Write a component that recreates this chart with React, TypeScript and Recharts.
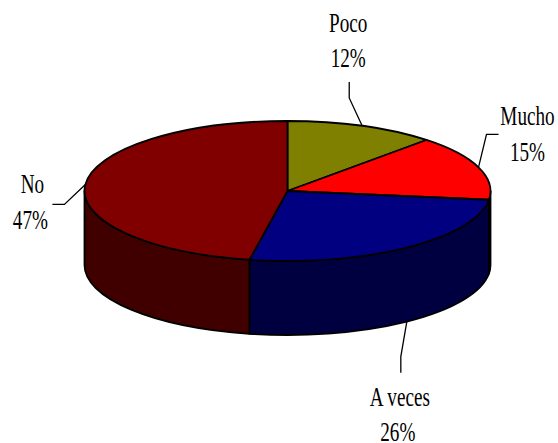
import React from "react";
import { PieChart, Pie } from "recharts";

const categories = ["Poco", "Mucho", "A veces", "No"];
const values = [12, 15, 26, 47];
const topColors = ["#808000", "#FF0000", "#000080", "#800000"];
const sideColors = ["#404000", "#800000", "#000040", "#400000"];

// Layout of the tilted pie
const CX = 287.5;
const CY = 191;
const RX = 203;
const RY = 70;
const DEPTH = 74;

// Label layout: offsets from the slice's rim anchor
const labelLayout = [
  { elbow: [-13, -28], end: [-13, -44], text: [-14, -94], second: 0, front: false },
  { elbow: [8, -33], end: [20, -33], text: [49, -42], second: 0, front: false },
  { elbow: [-6, 35], end: [-6, 51], text: [-7, 84], second: -2, front: true },
  { elbow: [-21, 20], end: [-33, 20], text: [-53, 9], second: -2, front: false },
];

const data = categories.map((name, i) => ({ name, value: values[i] }));

const rim = (a: number, cx: number, cy: number, rx: number) => {
  const r = (a * Math.PI) / 180;
  return [cx + rx * Math.cos(r), cy - (rx * (RY / RX)) * Math.sin(r)];
};

function Slice(props: any) {
  const { cx, cy, outerRadius: rx, startAngle, endAngle, index } = props;
  const ry = rx * (RY / RX);
  const [sx, sy] = rim(startAngle, cx, cy, rx);
  const [ex, ey] = rim(endAngle, cx, cy, rx);
  const large = Math.abs(startAngle - endAngle) > 180 ? 1 : 0;
  const a1 = Math.min(startAngle, 0);
  const a2 = Math.max(endAngle, -180);
  let side = null;
  if (a1 > a2) {
    const [x1, y1] = rim(a1, cx, cy, rx);
    const [x2, y2] = rim(a2, cx, cy, rx);
    side = (
      <path
        d={`M${x1},${y1} A${rx},${ry} 0 0 1 ${x2},${y2} L${x2},${y2 + DEPTH} A${rx},${ry} 0 0 0 ${x1},${y1 + DEPTH} Z`}
        fill={sideColors[index]}
        stroke="#000"
        strokeWidth={1.8}
        strokeLinejoin="round"
      />
    );
  }
  return (
    <g>
      {side}
      <path
        d={`M${cx},${cy} L${sx},${sy} A${rx},${ry} 0 ${large} 1 ${ex},${ey} Z`}
        fill={topColors[index]}
        stroke="#000"
        strokeWidth={1.8}
        strokeLinejoin="round"
      />
    </g>
  );
}

function SliceLabel(props: any) {
  const { cx, cy, outerRadius: rx, startAngle, endAngle, index, name, value } = props;
  const layout = labelLayout[index];
  const mid = (startAngle + endAngle) / 2;
  const [mx, my0] = rim(mid, cx, cy, rx);
  const my = layout.front ? my0 + DEPTH : my0;
  const tx = mx + layout.text[0];
  const ty = my + layout.text[1];
  const textProps = {
    textAnchor: "middle" as const,
    fontFamily: "'Liberation Serif', serif",
    fontSize: 27,
    fill: "#000",
  };
  return (
    <g>
      <polyline
        points={`${mx},${my} ${mx + layout.elbow[0]},${my + layout.elbow[1]} ${mx + layout.end[0]},${my + layout.end[1]}`}
        fill="none"
        stroke="#000"
        strokeWidth={1.3}
      />
      <text transform={`translate(${tx},${ty}) scale(0.71,1)`} {...textProps}>
        {name}
      </text>
      <text transform={`translate(${tx + layout.second},${ty + 35.5}) scale(0.71,1)`} {...textProps}>
        {`${value}%`}
      </text>
    </g>
  );
}

export default function App() {
  return (
    <div style={{ position: "absolute", left: 0, top: 0, width: 558, height: 443, background: "#fff", overflow: "hidden" }}>
      <PieChart width={558} height={443} margin={{ top: 0, right: 0, bottom: 0, left: 0 }}>
        <Pie
          data={data}
          dataKey="value"
          nameKey="name"
          cx={CX}
          cy={CY}
          innerRadius={0}
          outerRadius={RX}
          startAngle={90}
          endAngle={-270}
          paddingAngle={0}
          isAnimationActive={false}
          shape={Slice}
          label={SliceLabel}
          labelLine={false}
        />
      </PieChart>
    </div>
  );
}
